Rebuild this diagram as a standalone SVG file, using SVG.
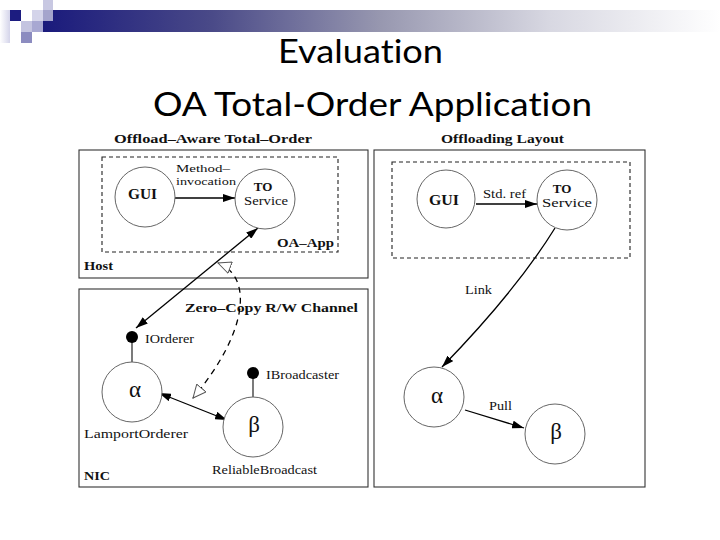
<svg xmlns="http://www.w3.org/2000/svg" width="720" height="540" viewBox="0 0 720 540">
<defs>
  <linearGradient id="bar" x1="0" y1="0" x2="1" y2="0">
    <stop offset="0" stop-color="#1a1a7c"/>
    <stop offset="0.25" stop-color="#4a4a88"/>
    <stop offset="0.5" stop-color="#9898b0"/>
    <stop offset="0.75" stop-color="#d8d8e2"/>
    <stop offset="1" stop-color="#ffffff"/>
  </linearGradient>
  <linearGradient id="fade" x1="0" y1="0" x2="1" y2="0">
    <stop offset="0" stop-color="#ffffff"/>
    <stop offset="1" stop-color="#d4d4ea"/>
  </linearGradient>
  <marker id="ah" markerUnits="userSpaceOnUse" markerWidth="13" markerHeight="8" refX="12" refY="4" orient="auto-start-reverse" viewBox="0 0 13 8">
    <path d="M0,0 L12,4 L0,8 z" fill="#000"/>
  </marker>
  <marker id="oh" markerUnits="userSpaceOnUse" markerWidth="15" markerHeight="13" refX="13.5" refY="6.5" orient="auto-start-reverse" viewBox="0 0 15 13">
    <path d="M0.5,0.5 L13.5,6.5 L0.5,12.5 z" fill="#fff" stroke="#555" stroke-width="1"/>
  </marker>
</defs>
<style>
  .box { fill: none; stroke: #333; stroke-width: 1.1; }
  .dbox { fill: none; stroke: #222; stroke-width: 1.1; stroke-dasharray: 4 3; }
  .node { fill: #fff; stroke: #666; stroke-width: 1; }
  .edge { fill: none; stroke: #000; stroke-width: 1.3; }
  .t { font-family: "Liberation Serif", "Times New Roman", serif; fill: #111; }
  .b { font-weight: bold; }
  .title { font-family: Lato, "Open Sans", "Liberation Sans", sans-serif; fill: #000; font-size: 33px; font-variant-ligatures: none; }
</style>

<!-- template decoration -->
<g id="decoration">
  <rect x="43" y="10" width="677" height="22" fill="url(#bar)"/>
  <rect x="0" y="10" width="10" height="33" fill="url(#fade)"/>
  <rect x="10" y="10" width="11" height="11" fill="#1c1c80"/>
  <rect x="21" y="21" width="11" height="11" fill="#c4c4e0"/>
  <rect x="21" y="32" width="11" height="11" fill="#8c8cc0"/>
  <rect x="32" y="10" width="11" height="11" fill="#d4d4ea"/>
  <rect x="32" y="21" width="11" height="11" fill="#a8a8d2"/>
  <rect x="43" y="0" width="10" height="10" fill="#c8c8e2"/>
  <rect x="43" y="10" width="10" height="11" fill="#a4a4cc"/>
</g>

<g id="title">
  <text class="title" x="278" y="63" textLength="165" lengthAdjust="spacingAndGlyphs">Evaluation</text>
  <text class="title" x="153" y="116" textLength="439" lengthAdjust="spacingAndGlyphs">OA Total-Order Application</text>
</g>

<!-- panel headings -->
<text class="t b" x="114" y="143" font-size="13" textLength="198" lengthAdjust="spacingAndGlyphs">Offload–Aware Total–Order</text>
<text class="t b" x="441" y="143" font-size="13" textLength="123" lengthAdjust="spacingAndGlyphs">Offloading Layout</text>

<!-- containers -->
<g id="host">
  <rect class="box" x="79" y="150" width="289" height="128"/>
  <text class="t b" x="84" y="270" font-size="13" textLength="29" lengthAdjust="spacingAndGlyphs">Host</text>
</g>
<g id="oa-app">
  <rect class="dbox" x="102" y="157" width="236" height="95"/>
  <text class="t b" x="277" y="247" font-size="13" textLength="57" lengthAdjust="spacingAndGlyphs">OA–App</text>
</g>
<g id="nic">
  <rect class="box" x="79" y="289" width="289" height="198"/>
  <text class="t b" x="84" y="480" font-size="13" textLength="26" lengthAdjust="spacingAndGlyphs">NIC</text>
  <text class="t b" x="185" y="312" font-size="13" textLength="173" lengthAdjust="spacingAndGlyphs">Zero–Copy R/W Channel</text>
</g>
<g id="offloading-layout">
  <rect class="box" x="374" y="150" width="271" height="337"/>
  <rect class="dbox" x="392" y="162" width="238" height="96"/>
</g>

<!-- connectors -->
<g id="connectors">
  <!-- left panel -->
  <line class="edge" x1="175" y1="198" x2="235" y2="198" marker-end="url(#ah)"/>
  <line class="edge" x1="136" y1="328" x2="258" y2="228" marker-start="url(#ah)" marker-end="url(#ah)"/>
  <path class="edge" d="M218,263 C252,276 250,330 193,398" stroke="#444" stroke-width="1.1" stroke-dasharray="6 5" marker-start="url(#oh)" marker-end="url(#oh)"/>
  <line class="edge" x1="159" y1="393" x2="227" y2="420" marker-start="url(#ah)" marker-end="url(#ah)"/>
  <line x1="132" y1="337" x2="132" y2="362" stroke="#222" stroke-width="1.2"/>
  <line x1="253" y1="373" x2="253" y2="397" stroke="#222" stroke-width="1.2"/>
  <!-- right panel -->
  <line class="edge" x1="476" y1="204" x2="537" y2="204" marker-end="url(#ah)"/>
  <path class="edge" d="M555,228 Q516,291 442,367" marker-end="url(#ah)"/>
  <line class="edge" x1="465" y1="410" x2="524" y2="428" marker-end="url(#ah)"/>
  <text class="t" x="483" y="198" font-size="12" textLength="43" lengthAdjust="spacingAndGlyphs">Std. ref</text>
  <text class="t" x="465" y="294" font-size="12" textLength="27" lengthAdjust="spacingAndGlyphs">Link</text>
  <text class="t" x="489" y="410" font-size="12" textLength="23" lengthAdjust="spacingAndGlyphs">Pull</text>
  <text class="t" x="176" y="172" font-size="11" textLength="54" lengthAdjust="spacingAndGlyphs">Method–</text>
  <text class="t" x="176" y="185" font-size="11" textLength="60" lengthAdjust="spacingAndGlyphs">invocation</text>
</g>

<!-- left nodes -->
<g id="gui-left">
  <circle class="node" cx="145" cy="197" r="30"/>
  <text class="t b" x="128" y="199" font-size="15" textLength="29" lengthAdjust="spacingAndGlyphs">GUI</text>
</g>
<g id="to-left">
  <circle class="node" cx="265" cy="199" r="30"/>
  <text class="t b" x="263" y="191" font-size="13" text-anchor="middle">TO</text>
  <text class="t" x="266" y="205" font-size="12" text-anchor="middle" textLength="44" lengthAdjust="spacingAndGlyphs">Service</text>
</g>
<g id="iorderer">
  <circle cx="132" cy="337" r="6" fill="#000"/>
  <text class="t" x="145" y="343" font-size="13" textLength="49" lengthAdjust="spacingAndGlyphs">IOrderer</text>
</g>
<g id="alpha-left">
  <circle class="node" cx="132" cy="392" r="30"/>
  <text class="t" x="135" y="397" font-size="23" text-anchor="middle">α</text>
  <text class="t" x="84" y="438" font-size="13" textLength="104" lengthAdjust="spacingAndGlyphs">LamportOrderer</text>
</g>
<g id="ibroadcaster">
  <circle cx="253" cy="373" r="6" fill="#000"/>
  <text class="t" x="266" y="379" font-size="13" textLength="73" lengthAdjust="spacingAndGlyphs">IBroadcaster</text>
</g>
<g id="beta-left">
  <circle class="node" cx="253" cy="427" r="30"/>
  <text class="t" x="254" y="432" font-size="23" text-anchor="middle">β</text>
  <text class="t" x="212" y="474" font-size="13" textLength="105" lengthAdjust="spacingAndGlyphs">ReliableBroadcast</text>
</g>

<!-- right nodes -->
<g id="gui-right">
  <circle class="node" cx="446" cy="199" r="29"/>
  <text class="t b" x="429" y="205" font-size="15" textLength="30" lengthAdjust="spacingAndGlyphs">GUI</text>
</g>
<g id="to-right">
  <circle class="node" cx="567" cy="200" r="30"/>
  <text class="t b" x="562" y="193" font-size="13" text-anchor="middle">TO</text>
  <text class="t" x="567" y="207" font-size="12" text-anchor="middle" textLength="50" lengthAdjust="spacingAndGlyphs">Service</text>
</g>
<g id="alpha-right">
  <circle class="node" cx="434" cy="397" r="30"/>
  <text class="t" x="437" y="403" font-size="23" text-anchor="middle">α</text>
</g>
<g id="beta-right">
  <circle class="node" cx="555" cy="434" r="30"/>
  <text class="t" x="556" y="439" font-size="23" text-anchor="middle">β</text>
</g>
</svg>
